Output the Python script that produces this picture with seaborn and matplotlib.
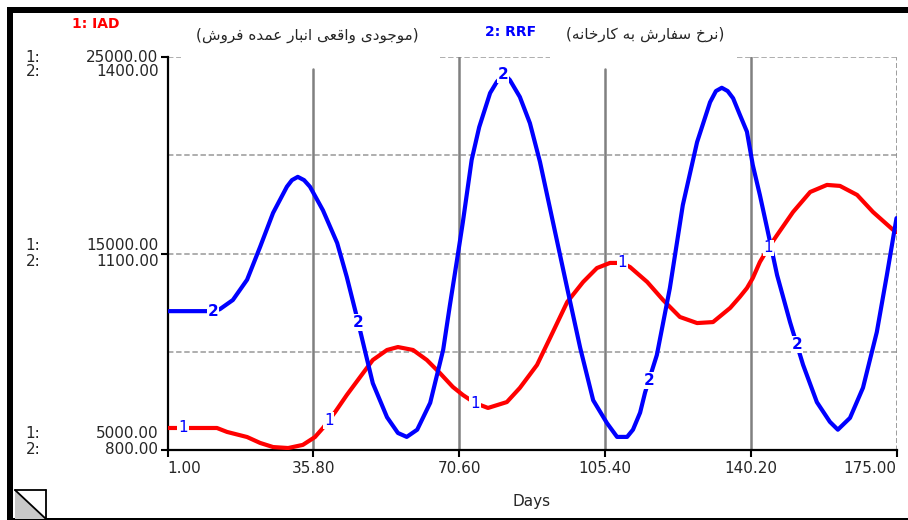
import matplotlib
matplotlib.use('Agg')
import matplotlib.pyplot as plt
import seaborn as sns
import numpy as np
from matplotlib.patches import Polygon, Rectangle
from matplotlib.lines import Line2D

sns.set_style('white')
plt.rcParams['font.family'] = ['DejaVu Sans']

# ---- data ----
iad_days = [1, 12.8, 15.2, 20.0, 23.1, 26.2, 29.8, 33.3, 36.2, 38.1, 41.0, 43.8, 47.0, 50.0,
            53.4, 56.0, 59.6, 62.9, 66.0, 69.1, 71.5, 74.4, 77.5, 82.0, 85.1, 89.2, 92.3,
            96.4, 100.2, 103.5, 106.6, 109.5, 111.4, 115.5, 119.3, 123.3, 127.4, 131.2,
            135.3, 137.6, 139.3, 140.7, 142.4, 144.4, 146.5, 150.3, 154.4, 158.4, 161.5,
            165.6, 169.4, 174.2, 175]
iad_vals = [6120, 6120, 5920, 5660, 5360, 5150, 5100, 5260, 5660, 6120, 6930, 7800, 8720, 9580,
            10090, 10240, 10090, 9580, 8920, 8210, 7800, 7390, 7140, 7440, 8160, 9330, 10700,
            12530, 13550, 14260, 14520, 14520, 14310, 13550, 12630, 11770, 11460, 11510,
            12230, 12790, 13240, 13750, 14570, 15280, 15940, 17110, 18130, 18490, 18440,
            17980, 17110, 16200, 16090]

rrf_days = [1, 12.0, 13.5, 16.6, 20.0, 23.1, 26.2, 29.5, 30.7, 32.1, 33.6, 35.0, 38.1, 41.5,
            43.8, 46.2, 47.7, 50.0, 53.4, 56.0, 58.1, 60.6, 63.7, 66.8, 68.4, 70.1, 71.5,
            73.6, 75.4, 78.0, 79.6, 81.3, 82.7, 85.1, 87.5, 89.9, 93.0, 96.4, 99.5, 102.6,
            105.9, 108.3, 110.7, 112.1, 113.8, 115.0, 117.8, 120.9, 124.0, 127.4, 130.5,
            131.9, 133.3, 134.7, 136.0, 137.6, 139.3, 140.7, 142.4, 144.1, 146.5, 149.6,
            152.7, 156.0, 159.1, 161.0, 163.9, 167.0, 170.3, 172.7, 175]
rrf_vals = [1012, 1012, 1015, 1029, 1060, 1110, 1162, 1202, 1212, 1217, 1212, 1202, 1166, 1116,
            1064, 1003, 963, 902, 850, 826, 820, 831, 872, 953, 1021, 1090, 1148,
            1243, 1293, 1345, 1362, 1374, 1365, 1339, 1299, 1240, 1148, 1047, 956, 876,
            841, 820, 820, 831, 857, 888, 945, 1047, 1174, 1270, 1331,
            1348, 1353, 1348, 1337, 1312, 1286, 1235, 1189, 1139, 1067, 995,
            930, 873, 843, 831, 849, 895, 980, 1067, 1154]

x_ticks = [1.00, 35.80, 70.60, 105.40, 140.20, 175.00]
iad_ticks = [25000, 15000, 5000]
rrf_ticks = [1400, 1100, 800]
iad_label_days = [4.7, 39.5, 74.4, 109.5, 144.4]
rrf_label_days = [11.9, 46.5, 81.1, 115.9, 151.2]

iad_title = '1: IAD'
rrf_title = '2: RRF'
iad_desc = '(موجودی واقعی انبار عمده فروش)'
rrf_desc = '(نرخ سفارش به کارخانه)'

RED = '#ff0000'
BLUE = '#0000ff'
GRID = '#a8a8a8'
VGRID = '#808080'

# ---- simple Persian shaping (matplotlib has no bidi / joining) ----
DUAL = {'ب': 0xFE8F, 'ج': 0xFE9D, 'خ': 0xFEA5, 'س': 0xFEB1, 'ش': 0xFEB5, 'ع': 0xFEC9,
        'ف': 0xFED1, 'ق': 0xFED5, 'م': 0xFEE1, 'ن': 0xFEE5, 'ه': 0xFEE9,
        'ی': 0xFBFC, 'ک': 0xFB8E}
RIGHT = {'ا': 0xFE8D, 'د': 0xFEA9, 'ر': 0xFEAD, 'و': 0xFEED}


def shape_rtl(s):
    out = []
    for i, ch in enumerate(s):
        base = DUAL.get(ch, RIGHT.get(ch))
        if base is None:
            out.append(ch)
            continue
        prev_ch = s[i - 1] if i > 0 else ''
        next_ch = s[i + 1] if i + 1 < len(s) else ''
        j_prev = prev_ch in DUAL
        j_next = ch in DUAL and (next_ch in DUAL or next_ch in RIGHT)
        if j_prev and j_next:
            off = 3
        elif j_prev:
            off = 1
        elif j_next:
            off = 2
        else:
            off = 0
        out.append(chr(base + off))
    vis = ''.join(out)[::-1]
    return vis.translate(str.maketrans('()', ')('))


W, H = 908, 520


def fp(px, py):
    return px / W, 1 - py / H


fig = plt.figure(figsize=(W / 100, H / 100), dpi=100)
ax = fig.add_axes([167.5 / W, 1 - 450 / H, 729 / W, 393 / H])
ax2 = ax.twinx()

# grid
for v in [10000, 15000, 20000]:
    ax.axhline(v, color=GRID, lw=1.3, ls=(0, (3, 1.5)), zorder=1)
for a, b in [(0, 0.018), (0.374, 0.525), (0.781, 1.0)]:
    ax.axhline(25000, a, b, color=GRID, lw=1.3, ls=(0, (3, 1.5)), zorder=1)
for d, top in zip(x_ticks[1:-1], [0.97, 1.0, 0.97, 1.0]):
    ax.axvline(d, 0, top, color=VGRID, lw=1.8, zorder=1)
ax.axvline(x_ticks[-1], color=VGRID, lw=1.8, ls=(0, (2, 1)), zorder=1)

sns.lineplot(x=iad_days, y=iad_vals, ax=ax, color=RED, linewidth=3, zorder=3,
             solid_joinstyle='round')
sns.lineplot(x=rrf_days, y=rrf_vals, ax=ax2, color=BLUE, linewidth=3, zorder=3,
             solid_joinstyle='round')

ax.set_xlim(x_ticks[0], x_ticks[-1])
ax.set_ylim(iad_ticks[-1], iad_ticks[0])
ax2.set_ylim(rrf_ticks[-1], rrf_ticks[0])

# curve number labels
for d in iad_label_days:
    ax2.text(d, np.interp(d, iad_days, iad_vals), '1', transform=ax.transData,
             color=BLUE, fontsize=11, ha='center', va='center', zorder=5,
             bbox=dict(facecolor='white', edgecolor='none', pad=0.6))
for d in rrf_label_days:
    ax2.text(d, np.interp(d, rrf_days, rrf_vals), '2', color=BLUE, fontsize=11,
             fontweight='bold', ha='center', va='center', zorder=5,
             bbox=dict(facecolor='white', edgecolor='none', pad=0.6))

# axes styling
for sp in ['top', 'right']:
    ax.spines[sp].set_visible(False)
    ax2.spines[sp].set_visible(False)
for sp in ['left', 'bottom']:
    ax.spines[sp].set_color('black')
    ax.spines[sp].set_linewidth(1.6)
    ax2.spines[sp].set_visible(False)
ax.set_xticks(x_ticks)
ax.set_xticklabels([f'{v:.2f}' for v in x_ticks], fontsize=11)
ax.get_xticklabels()[0].set_horizontalalignment('left')
ax.get_xticklabels()[-1].set_horizontalalignment('right')
ax.set_yticks(iad_ticks)
ax.set_yticklabels([])
ax.tick_params(axis='both', direction='out', length=5, width=1.5, color='black', pad=3,
               left=True, bottom=True)
ax2.set_yticks([])
ax.set_xlabel('Days', fontsize=11, labelpad=13)
ax.set_ylabel('')
ax2.set_ylabel('')

# stacked scale labels on the left
offsets = [(0, 14), (-8, 8), (-16, 0)]
for v1, v2, (o1, o2) in zip(iad_ticks, rrf_ticks, offsets):
    for txt, val, oy in [('1:', v1, o1), ('2:', v2, o2)]:
        yv = val if txt == '1:' else np.interp(val, rrf_ticks[::-1], iad_ticks[::-1])
        ax.annotate(txt, xy=(0, yv), xycoords=('axes fraction', 'data'),
                    xytext=(-142, -oy), textcoords='offset pixels',
                    ha='left', va='center', fontsize=11, annotation_clip=False)
        ax.annotate(f'{val:.2f}', xy=(0, yv), xycoords=('axes fraction', 'data'),
                    xytext=(-9, -oy), textcoords='offset pixels',
                    ha='right', va='center', fontsize=11, annotation_clip=False)

# titles
fig.text(*fp(96, 24), iad_title, color=RED, fontsize=10, fontweight='bold',
         ha='center', va='center')
fig.text(*fp(511, 32), rrf_title, color=BLUE, fontsize=10, fontweight='bold',
         ha='center', va='center')
fig.text(*fp(307, 35), shape_rtl(iad_desc), fontsize=11, ha='center', va='center')
fig.text(*fp(645, 34), shape_rtl(rrf_desc), fontsize=11, ha='center', va='center')

# window frame
fig.add_artist(Rectangle(fp(7, H), 6 / W, (H - 7) / H, transform=fig.transFigure,
                         facecolor='black', edgecolor='none'))
fig.add_artist(Rectangle(fp(7, 13), (W - 7) / W, 6 / H, transform=fig.transFigure,
                         facecolor='black', edgecolor='none'))
fig.add_artist(Rectangle(fp(7, H), (W - 7) / W, 2.5 / H, transform=fig.transFigure,
                         facecolor='black', edgecolor='none'))

# little corner icon
fig.add_artist(Polygon([fp(15, 490), fp(15, 519), fp(46, 519)], closed=True,
                       transform=fig.transFigure, facecolor='#c8c8c8', edgecolor='none'))
for p, q in [((15, 490), (46, 490)), ((46, 490), (46, 519)), ((15, 490), (46, 519))]:
    (x0, y0), (x1, y1) = fp(*p), fp(*q)
    fig.add_artist(Line2D([x0, x1], [y0, y1], transform=fig.transFigure,
                          color='black', lw=1.3))

fig.savefig('out.png', dpi=100)
